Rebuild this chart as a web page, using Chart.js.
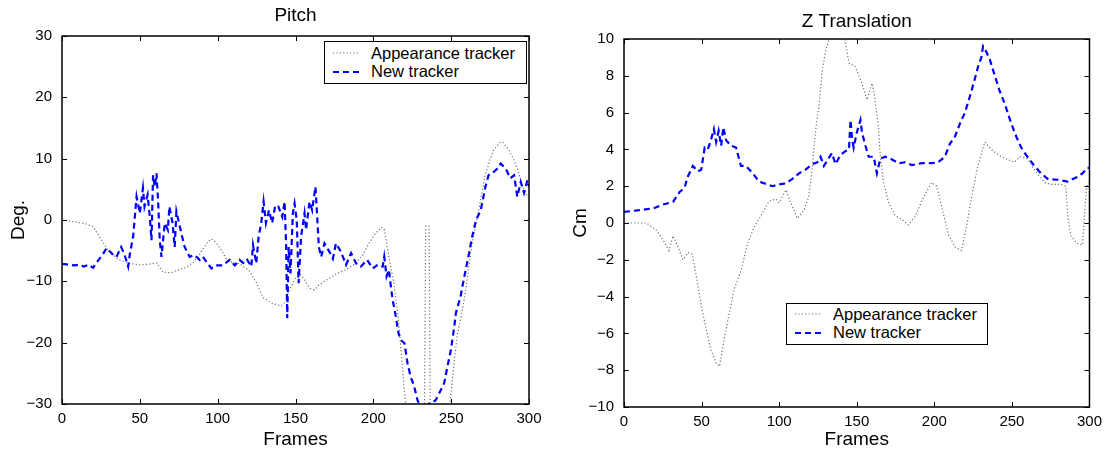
<!DOCTYPE html>
<html>
<head>
<meta charset="utf-8">
<script src="https://cdn.jsdelivr.net/npm/chart.js@4.4.0/dist/chart.umd.min.js"></script>
<style>
	body { margin: 0; background: #fff; width: 1108px; height: 451px; position: relative; overflow: hidden;
		font-family: 'Liberation Sans', Arial, sans-serif; }
	canvas { position: absolute; top: 0; }
	#pitch_chart { left: 0; }
	#z_chart { left: 554px; }
	.legend { position: absolute; background: #fff; border: 1.5px solid #000; box-sizing: border-box;
		font-size: 16.5px; color: #000; padding-left: 8px; }
	.legend .row { display: flex; align-items: center; height: 18.5px; white-space: nowrap; }
	.legend svg { margin-right: 12px; }
	#pitch_legend { left: 324px; top: 41px; width: 203px; height: 43px; padding-top: 2px; }
	#z_legend { left: 786px; top: 303px; width: 202px; height: 42px; padding-top: 1px; }
</style>
</head>
<body>
<canvas id="pitch_chart" width="554" height="451"></canvas>
<canvas id="z_chart" width="554" height="451"></canvas>
<div class="legend" id="pitch_legend"></div>
<div class="legend" id="z_legend"></div>
<script>
// series names
const seriesNames = ['Appearance tracker', 'New tracker'];

// Pitch - appearance tracker (deg)
const pitchAppFrames = [0,8,15,20,24,28,31,37,44,50, 56,61,63,65,70,74,79,84,88,90,
	94,96,98,101,104,106,110,114,120,123, 125,129,135,141,144,146,150,153,156,159,
	162,165,170,177,183,188,193,197,201,205, 207,209,211,213,216,218,220,222,226,230,
	232.8,233.6,235.8,236.6,240,246,248.6,250,252,254, 257,259,263,266,268,272,277,281,283,286,
	290,293,296,300];
const pitchAppValues = [0,-0.3,-0.6,-1.1,-2.7,-4.3,-5.4,-6.5,-7.1,-7.3, -7.2,-7,-7.8,-8.5,-8.6,-8.2,-7.8,-7,-5.8,-4.9,
	-3.5,-3.1,-3.4,-4.4,-5.6,-6.5,-7,-7.1,-8.2,-9.4, -10.3,-12.6,-13.6,-14,-13.2,-11.4,-9.5,-8.9,-9.8,-11.1,
	-11.4,-10.6,-9.8,-8.7,-8,-7.2,-5.8,-3.9,-2.3,-1.2, -1.5,-4.5,-7.5,-10,-15.9,-22,-28,-34,-38,-38,
	-33,-1,-1,-33,-38,-38,-31,-28,-23,-18.6, -15,-12,-4.5,-0.5,2,7.5,11.3,12.6,12.7,11.8,
	10,8,5.3,3.4];

// Pitch - new tracker (deg)
const pitchNewFrames = [0,2,5,8,11,14,17,20,22,26, 28.6,33,35,38,40,42.5,43.6,45.7,47.9,50,
	52,53,55,56.4,57.5,58.5,59.6,60.7,61.7,62.8, 63.9,66,68,69,71,72.4,73.5,76.7,78.8,82,
	85,88.5,90.5,93.6,96,99,103,107.7,111,114, 117,119,121.6,122.7,124.8,126.3,128,129.5,131,133,
	135,137,139,141.5,143,144,144.7,145.6,146.8,148.3, 149.4,150.8,152,153.6,155.8,156.8,159,160.7,162.8,163.7,
	165,166.5,168.6,171.8,174,176,179,182.5,185.7,189, 192,196,199.6,202.8,206,207,208.5,210,211.3,212.4,
	214.5,216.2,217.8,220,222,224,226,228.4,231.5,234, 236,240,243.4,245.5,247.6,249.8,252,253,256,258,
	261.5,263.5,266,269,272,274,277.6,279.7,281.8,285, 288,290.4,292.5,294.7,296.8,299,300];
const pitchNewValues = [-7.2,-7.2,-7.3,-7.4,-7.3,-7.6,-7.3,-7.8,-7.0,-5.7, -4.6,-5.7,-6.0,-4.4,-5.5,-7.6,-5.5,-2.7,3.8,1.1,
	5.2,2.2,4.1,0.5,-3.3,7.3,5.4,7.6,3.3,-3.3, -6.0,-0.5,-1.6,2.2,-0.5,-4.4,1.4,-2.2,-4.4,-6.0,
	-5.7,-6.5,-6.0,-7.1,-7.9,-7.4,-7.4,-6.5,-7.4,-6.5, -7.1,-6.5,-7.6,-4.1,-7.1,-2.7,-0.5,3.0,-0.5,1.6,
	-0.5,2.4,2.2,0.5,3.0,-4.4,-16.0,-4.4,-8.7,1.1, 2.7,0,-10.3,-2.7,1.1,-1.6,3.0,1.6,5.4,1.6,
	-4.4,-6.0,-3.8,-5.2,-6.3,-3.8,-5.1,-7.3,-5.4,-7.1, -7.6,-6.5,-7.9,-7.3,-7.6,-6.0,-9.2,-8.1,-10.9,-13.0,
	-15.8,-18.5,-19.6,-20.1,-23.4,-25.6,-26.9,-29.4,-31.0,-31.0, -29.9,-29.4,-27.7,-26.6,-23.9,-21.2,-17.4,-15.2,-12.5,-9.8,
	-5.4,-2.7,0,1.6,5.4,7.3,7.9,8.4,9.2,8.4, 6.8,7.3,3.8,6.2,4.4,6.5,5.5];

// Z translation - appearance tracker (cm)
const zAppFrames = [0,8,14.5,21,25,29,31.6,34.8,38,41.2, 44,46.6,49.8,53,56,59.4,61.5,63.7,66.9,71,
	75.4,79.7,84,88.3,93.6,97.9,100,104.3,107.5,111.7, 116,119,121,122.4,124,125.6,127.8,130,131.6,134,
	141,142.7,145,149,153.4,156.6,159.8,161.5,164,165.2, 167.3,170.5,174.8,179,183.3,187.6,193,198.3,201.5,204.7,
	209,213.3,217.5,220.7,224,228,232.5,236.7,243,251.7, 255,260,264.5,271,275,281.6,284.8,286,288,292,
	295.5,297,298.3,300];
const zAppValues = [0,0,0,-0.4,-0.9,-1.5,-0.7,-1.3,-2.0,-1.6, -1.7,-2.9,-4.5,-5.8,-6.9,-7.6,-7.8,-6.7,-5.3,-3.6,
	-2.6,-1.1,-0.2,0.4,1.2,1.3,1.1,1.8,1.1,0.25, 0.7,1.4,2.7,4.1,5.4,6.3,8.3,9.4,9.8,11,
	11,9.8,8.7,8.5,7.6,6.7,7.6,6.9,5.2,3.6, 2.2,1.1,0.4,0.2,-0.1,0.35,1.4,2.2,2.0,0.9,
	-0.6,-1.3,-1.5,-0.2,1.4,3.1,4.4,4.0,3.6,3.3, 3.6,3.5,2.9,2.2,2.1,2.1,2.0,0.35,-0.7,-1.1,
	-1.2,0.7,2.0,2.2];

// Z translation - new tracker (cm)
const zNewFrames = [0,10,19,25,31.6,36,39,41,44.4,47.6, 49.8,52,54,56,57.9,59.4,61,62.6,64,65.8,
	69,72.2,75.4,78.6,83,87,92.5,95.7,100,104.3, 108.5,112.8,117,121.4,124.6,126.7,128.8,131,134,136.3,
	139.5,142.7,145,146,147,148,150,152.4,153.4,155.6, 157.7,160.9,163,165.2,168.4,171.6,177,181,185.5,192,
	198.3,202.5,206.8,210,213.3,216.5,219.7,223,226,228.2, 230.3,231.4,233.5,235.7,239,242,245.3,249.6,252.8,256,
	260,264.5,268.8,273,279.5,286,292,295.5,298.7,300];
const zNewValues = [0.6,0.7,0.8,1.0,1.15,1.7,1.9,2.5,3.1,2.8, 2.9,4.1,4.0,4.5,5.1,4.4,5.0,4.2,5.2,4.5,
	4.2,4.1,3.1,3.1,2.7,2.25,2.1,2.0,2.1,2.15, 2.4,2.7,2.9,3.2,3.3,3.6,3.1,3.4,3.8,3.2,
	3.7,3.9,4.0,5.6,4.6,4.1,4.9,5.6,4.9,4.2, 3.6,3.6,2.7,3.5,3.6,3.5,3.25,3.3,3.15,3.25,
	3.25,3.3,3.6,4.3,4.7,5.4,6.0,6.9,7.8,8.5, 9.0,9.6,9.3,8.9,8.0,7.2,6.5,5.4,4.7,4.1,
	3.6,3.1,2.7,2.4,2.35,2.25,2.5,2.7,3.0,3.0];

const FONT = "'Liberation Sans', Arial, sans-serif";
Chart.defaults.font.family = FONT;
Chart.defaults.color = '#000';

function points(frames, values) {
	return frames.map((f, i) => ({x: f, y: values[i]}));
}

function minusSign(v) {
	return String(v).replace('-', '\u2212');
}

// matlab style box with inward ticks on all four sides
const boxTicks = {
	id: 'boxTicks',
	afterDatasetsDraw(chart) {
		const ctx = chart.ctx, a = chart.chartArea;
		const x = chart.scales.x, y = chart.scales.y;
		ctx.save();
		ctx.strokeStyle = '#000';
		ctx.lineWidth = 1;
		ctx.beginPath();
		x.ticks.forEach(t => {
			const px = Math.round(x.getPixelForValue(t.value)) + 0.5;
			ctx.moveTo(px, a.bottom); ctx.lineTo(px, a.bottom - 5);
			ctx.moveTo(px, a.top);    ctx.lineTo(px, a.top + 5);
		});
		y.ticks.forEach(t => {
			const py = Math.round(y.getPixelForValue(t.value)) + 0.5;
			ctx.moveTo(a.left, py);  ctx.lineTo(a.left + 5, py);
			ctx.moveTo(a.right, py); ctx.lineTo(a.right - 5, py);
		});
		ctx.stroke();
		ctx.lineWidth = 1.5;
		ctx.strokeRect(a.left, a.top, a.right - a.left, a.bottom - a.top);
		ctx.restore();
	}
};

function make_chart(id, opt) {
	return new Chart(document.getElementById(id), {
		type: 'line',
		data: {
			datasets: [{
				label: seriesNames[0],
				data: points(opt.appFrames, opt.appValues),
				borderColor: '#707070',
				borderWidth: 1.2,
				borderDash: [1.2, 2.2],
				pointRadius: 0,
				tension: 0,
				order: 1,
			}, {
				label: seriesNames[1],
				data: points(opt.newFrames, opt.newValues),
				borderColor: '#0000ff',
				borderWidth: 2.2,
				borderDash: [6, 4],
				pointRadius: 0,
				tension: 0,
				order: 0,
			}],
		},
		options: {
			responsive: false,
			animation: false,
			events: [],
			layout: {padding: {left: 0, right: opt.padRight, top: 0, bottom: 0}},
			plugins: {
				legend: {display: false},
				tooltip: {enabled: false},
			},
			scales: {
				x: {
					type: 'linear',
					min: 0, max: 300,
					grid: {display: false, drawTicks: false},
					border: {display: false},
					ticks: {stepSize: 50, padding: 6, font: {size: 15}, maxRotation: 0},
					title: {display: true, text: 'Frames', font: {size: 19}, padding: {top: 0, bottom: 0}},
					afterFit: s => { s.height = opt.xHeight; },
				},
				// top axis only carries the plot title, centred over the plot box
				xTitle: {
					type: 'linear',
					position: 'top',
					min: 0, max: 300,
					grid: {display: false, drawTicks: false},
					border: {display: false},
					ticks: {display: false},
					title: {display: true, text: opt.title, font: {size: 19}, padding: {top: opt.titleTop, bottom: 0}},
					afterFit: s => { s.height = opt.topHeight; },
				},
				y: {
					min: opt.yMin, max: opt.yMax,
					grid: {display: false, drawTicks: false},
					border: {display: false},
					ticks: {stepSize: opt.yStep, padding: 10, font: {size: 15}, callback: minusSign},
					title: {display: true, text: opt.yTitle, font: {size: 19}, padding: {top: opt.yTitlePad, bottom: 0}},
					afterFit: s => { s.width = opt.yWidth; },
				},
			},
		},
		plugins: [boxTicks],
	});
}

function make_legend(chart, el) {
	chart.data.datasets.forEach(ds => {
		const row = document.createElement('div');
		row.className = 'row';
		row.innerHTML = '<svg width="26" height="4"><line x1="0" y1="2" x2="26" y2="2" stroke="' + ds.borderColor +
			'" stroke-width="' + ds.borderWidth + '" stroke-dasharray="' + ds.borderDash.join(' ') + '"/></svg>' +
			'<span>' + ds.label + '</span>';
		el.appendChild(row);
	});
}

const pitchChart = make_chart('pitch_chart', {
	title: 'Pitch', titleTop: 4, topHeight: 36,
	appFrames: pitchAppFrames, appValues: pitchAppValues,
	newFrames: pitchNewFrames, newValues: pitchNewValues,
	yMin: -30, yMax: 30, yStep: 10, yTitle: 'Deg.', yTitlePad: 7.6,
	yWidth: 62, xHeight: 47, padRight: 25,
});

const zChart = make_chart('z_chart', {
	title: 'Z Translation', titleTop: 10.6, topHeight: 39,
	appFrames: zAppFrames, appValues: zAppValues,
	newFrames: zNewFrames, newValues: zNewValues,
	yMin: -10, yMax: 10, yStep: 2, yTitle: 'Cm', yTitlePad: 15.6,
	yWidth: 70, xHeight: 44, padRight: 16,
});

make_legend(pitchChart, document.getElementById('pitch_legend'));
make_legend(zChart, document.getElementById('z_legend'));
</script>
</body>
</html>
